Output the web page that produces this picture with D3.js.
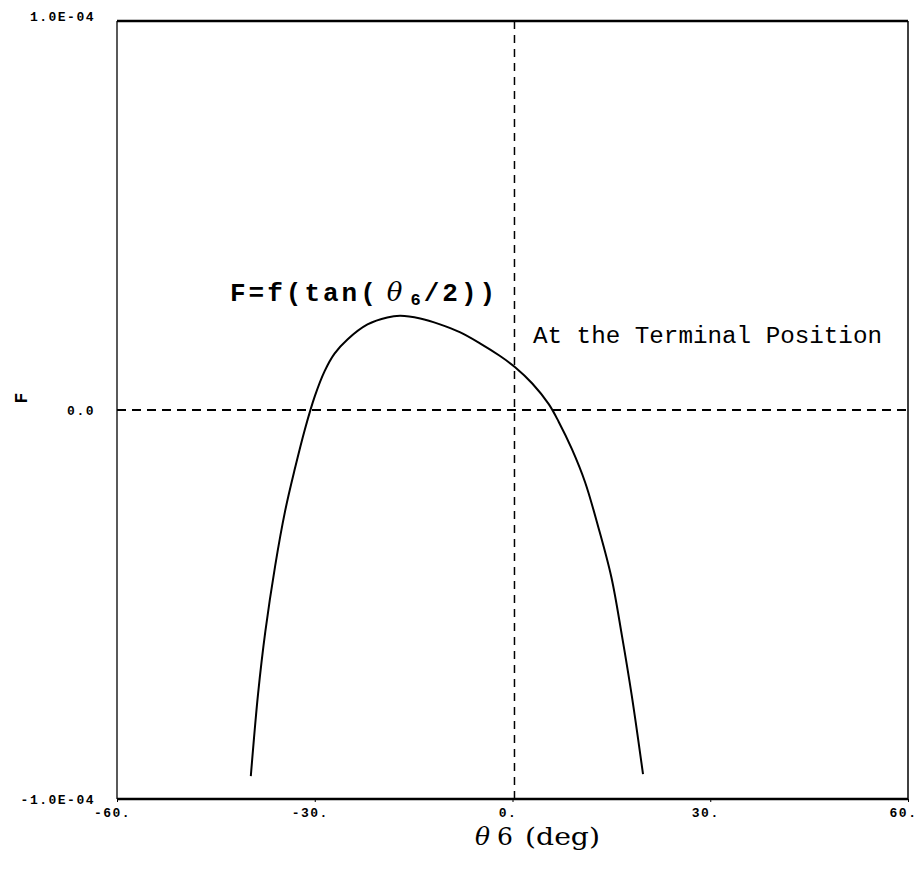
<!DOCTYPE html>
<html>
<head>
<meta charset="utf-8">
<script src="https://cdn.jsdelivr.net/npm/d3@7"></script>
<style>
  html, body { margin: 0; padding: 0; background: #fff; }
  svg { display: block; }
</style>
</head>
<body>
<script>
// ---- data ----
const xTicks = [-60, -30, 0, 30, 60];
const xTickLabels = ["-60.", "-30.", "0.", "30.", "60."];
const yTicks = [-1e-4, 0, 1e-4];
const yTickLabels = ["-1.0E-04", "0.0", "1.0E-04"];
const theta = [-39.7, -38.6, -37.5, -36.0, -34.5, -33.0, -31.5, -30.0, -28.5, -27.0, -25.0, -22.0, -19.0, -17.0, -14.0, -11.0, -8.0, -5.0, -2.0, 0.4, 3.0, 5.5, 7.0, 9.0, 11.0, 13.0, 15.0, 16.6, 18.1, 19.8];
const F = [-9.41e-5, -7.3e-5, -5.7e-5, -4.0e-5, -2.6e-5, -1.5e-5, -0.5e-5, 0.35e-5, 1.0e-5, 1.45e-5, 1.82e-5, 2.2e-5, 2.38e-5, 2.42e-5, 2.35e-5, 2.2e-5, 2.0e-5, 1.72e-5, 1.4e-5, 1.1e-5, 0.68e-5, 0.15e-5, -0.3e-5, -1.0e-5, -1.85e-5, -3.0e-5, -4.3e-5, -5.8e-5, -7.35e-5, -9.36e-5];
const terminalTheta = 0.3;
const curveLabel = "F=f(tan(";
const noteLabel = "At the Terminal Position";
const xTitleParts = ["θ", "6", "(deg)"];
const yTitle = "F";

const W = 922, H = 875;
const svg = d3.select("body").append("svg").attr("width", W).attr("height", H);

const x = d3.scaleLinear().domain([-60, 60]).range([117, 908]);
const y = d3.scaleLinear().domain([-1e-4, 1e-4]).range([799, 21]);

const mono = "'Liberation Mono', 'DejaVu Sans Mono', monospace";

// frame
svg.append("line").attr("x1", x(-60)).attr("x2", x(60)).attr("y1", y(1e-4)).attr("y2", y(1e-4))
  .attr("stroke", "#000").attr("stroke-width", 2.5);
svg.append("line").attr("x1", x(-60)).attr("x2", x(60)).attr("y1", y(-1e-4)).attr("y2", y(-1e-4))
  .attr("stroke", "#000").attr("stroke-width", 2.5);
svg.append("line").attr("x1", x(-60)).attr("x2", x(-60)).attr("y1", y(1e-4)).attr("y2", y(-1e-4))
  .attr("stroke", "#000").attr("stroke-width", 1.3);
svg.append("line").attr("x1", x(60)).attr("x2", x(60)).attr("y1", y(1e-4)).attr("y2", y(-1e-4))
  .attr("stroke", "#000").attr("stroke-width", 1.5);

// x axis ticks & labels
const xAxis = d3.axisBottom(x).tickValues(xTicks).tickSize(3)
  .tickFormat((d, i) => xTickLabels[i]);
const gx = svg.append("g").attr("transform", `translate(0,${y(-1e-4)})`).call(xAxis);
gx.select(".domain").remove();
gx.selectAll("text").attr("font-family", mono).attr("font-size", 13).attr("font-weight", "bold")
  .attr("letter-spacing", 1.5).attr("fill", "#000").attr("dy", "0.9em").attr("dx", -5);

// y axis labels
const yAxis = d3.axisLeft(y).tickValues(yTicks).tickSize(0).tickPadding(22)
  .tickFormat((d, i) => yTickLabels[i]);
const gy = svg.append("g").attr("transform", `translate(${x(-60)},0)`).call(yAxis);
gy.select(".domain").remove();
gy.selectAll("text").attr("font-family", mono).attr("font-size", 13).attr("font-weight", "bold")
  .attr("letter-spacing", 1.5).attr("fill", "#000");
gy.selectAll(".tick").filter(d => d === 1e-4).select("text").attr("dy", "-0.05em");

// reference dashed lines
svg.append("line").attr("x1", x(-60)).attr("x2", x(60)).attr("y1", y(0)).attr("y2", y(0))
  .attr("stroke", "#000").attr("stroke-width", 2).attr("stroke-dasharray", "9,6");
svg.append("line").attr("x1", x(terminalTheta)).attr("x2", x(terminalTheta))
  .attr("y1", y(1e-4)).attr("y2", y(-1e-4))
  .attr("stroke", "#000").attr("stroke-width", 1.5).attr("stroke-dasharray", "8,6");

// curve
const pts = theta.map((t, i) => [t, F[i]]);
svg.append("path").datum(pts)
  .attr("d", d3.line().x(d => x(d[0])).y(d => y(d[1])).curve(d3.curveCatmullRom.alpha(0.5)))
  .attr("fill", "none").attr("stroke", "#000").attr("stroke-width", 2);

// curve label F=f(tan(θ6/2))
const lab = svg.append("text").attr("x", 230).attr("y", 301)
  .attr("font-family", mono).attr("font-size", 26).attr("font-weight", "bold")
  .attr("letter-spacing", 3).attr("fill", "#000");
lab.append("tspan").text(curveLabel);
lab.append("tspan").attr("font-family", "'DejaVu Serif', serif").attr("font-style", "italic")
  .attr("font-weight", "normal").attr("dx", 8).text("θ");
lab.append("tspan").attr("font-size", 17).attr("dx", 5).attr("dy", 4).text("6");
lab.append("tspan").attr("dy", -4).text("/2))");

// note
svg.append("text").attr("x", 533).attr("y", 343)
  .attr("font-family", mono).attr("font-size", 23).attr("fill", "#000")
  .attr("textLength", 349).attr("lengthAdjust", "spacingAndGlyphs").text(noteLabel);

// x title
const xt = svg.append("g").attr("font-family", "'DejaVu Serif', serif").attr("font-size", 25).attr("fill", "#000");
xt.append("text").attr("x", 475).attr("y", 845).attr("font-style", "italic").text(xTitleParts[0]);
xt.append("text").attr("x", 497).attr("y", 845).text(xTitleParts[1]);
xt.append("text").attr("x", 525).attr("y", 845).attr("textLength", 75).attr("lengthAdjust", "spacingAndGlyphs").text(xTitleParts[2]);

// y title
svg.append("text").attr("transform", `translate(27,398) rotate(-90)`)
  .attr("text-anchor", "middle").attr("font-family", mono).attr("font-size", 18)
  .attr("font-weight", "bold").attr("fill", "#000").text(yTitle);
</script>
</body>
</html>
